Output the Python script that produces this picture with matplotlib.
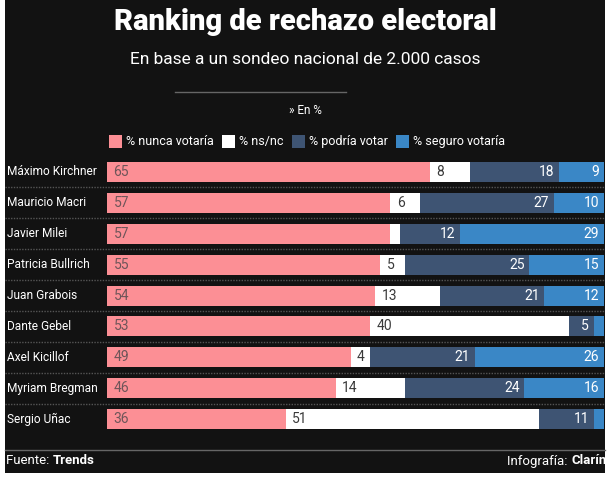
import matplotlib
matplotlib.use("Agg")
import matplotlib.pyplot as plt
import matplotlib.transforms as mtransforms
from matplotlib.patches import Rectangle
from matplotlib.lines import Line2D
import numpy as np

plt.rcParams['font.family'] = ['Roboto', 'DejaVu Sans']

candidates = ["Máximo Kirchner", "Mauricio Macri", "Javier Milei", "Patricia Bullrich",
              "Juan Grabois", "Dante Gebel", "Axel Kicillof", "Myriam Bregman", "Sergio Uñac"]
nunca = [65, 57, 57, 55, 54, 53, 49, 46, 36]
nsnc = [8, 6, 2, 5, 13, 40, 4, 14, 51]
podria = [18, 27, 12, 25, 21, 5, 21, 24, 11]
seguro = [9, 10, 29, 15, 12, 2, 26, 16, 2]
series_names = ["% nunca votaría", "% ns/nc", "% podría votar", "% seguro votaría"]

BG = "#121212"
colors = ["#fc8f95", "#ffffff", "#3e5473", "#3a87c6"]

W, H = 611, 480
fig = plt.figure(figsize=(W / 100, H / 100), dpi=100)
fig.patch.set_facecolor("white")

def fx(px):
    return px / W

def fy(py):
    return 1 - py / H

# dark panel, behind everything
fig.patches.append(Rectangle((fx(5), fy(473)), fx(600), 473 / H, transform=fig.transFigure,
                             facecolor=BG, edgecolor="none", zorder=-10))

# titles
fig.text(fx(305), fy(22), "Ranking de rechazo electoral", ha="center", va="center",
         color="white", fontsize=21, fontweight="heavy")
fig.text(fx(305), fy(60), "En base a un sondeo nacional de 2.000 casos", ha="center", va="center",
         color="white", fontsize=12.5)
fig.lines.append(Line2D([fx(175), fx(346)], [fy(92), fy(92)], transform=fig.transFigure,
                        color="#666666", lw=1))
fig.text(fx(305), fy(110), "» En %", ha="center", va="center", color="white", fontsize=8.5)

# legend
leg_x = [109, 222, 292, 396]
for x, c, name in zip(leg_x, colors, series_names):
    fig.patches.append(Rectangle((fx(x), fy(148)), fx(13), 13 / H, transform=fig.transFigure,
                                 facecolor=c, edgecolor="none"))
    fig.text(fx(x + 17), fy(141.5), name, ha="left", va="center", color="white", fontsize=9)

# bars
row_top, row_h = 156.5, 30.9
n = len(candidates)
ax = fig.add_axes([fx(107), fy(row_top + row_h * n), fx(604 - 107), row_h * n / H])
ax.set_xlim(0, 100)
ax.set_ylim(n - 0.5, -0.5)
ax.axis("off")
ax.patch.set_alpha(0)

y = np.arange(n)
data = [nunca, nsnc, podria, seguro]
left = np.zeros(n)
for k, vals in enumerate(data):
    vals = np.array(vals)
    ax.barh(y, vals, left=left, height=0.65, color=colors[k], edgecolor="none")
    for i, v in enumerate(vals):
        if v < 4:
            continue
        if k == 0:
            ax.text(left[i] + 1.3, i, str(v), ha="left", va="center", color="#6e5559", fontsize=10)
        elif k == 1:
            ax.text(left[i] + 1.3, i, str(v), ha="left", va="center", color="#3a3a3a", fontsize=10)
        else:
            ax.text(left[i] + v - 1.0, i, str(v), ha="right", va="center", color="white", fontsize=10)
    left = left + vals

blend = mtransforms.blended_transform_factory(fig.transFigure, ax.transData)
for i, name in enumerate(candidates):
    ax.text(fx(7), i, name, transform=blend, ha="left", va="center", color="white", fontsize=8.6)
for i in range(n - 1):
    ax.plot([fx(5), fx(605)], [i + 0.5, i + 0.5], transform=blend, color="#555555",
            lw=1, ls=(0, (1, 1)), clip_on=False)

# footer
fig.lines.append(Line2D([fx(5), fx(605)], [fy(450), fy(450)], transform=fig.transFigure,
                        color="#666666", lw=1))
t1 = fig.text(fx(6), fy(461), "Fuente: ", ha="left", va="center", color="white", fontsize=9.5)
ax.annotate("Trends", xy=(1, 0.5), xycoords=t1, ha="left", va="center", color="white",
            fontsize=9.5, fontweight="bold", annotation_clip=False)
t2 = fig.text(fx(571), fy(461), "Infografía: ", ha="right", va="center", color="white", fontsize=9.5)
ax.annotate("Clarín", xy=(1, 0.5), xycoords=t2, ha="left", va="center", color="white",
            fontsize=9.5, fontweight="bold", annotation_clip=False)

fig.savefig("out.png", dpi=100, facecolor=fig.get_facecolor())
